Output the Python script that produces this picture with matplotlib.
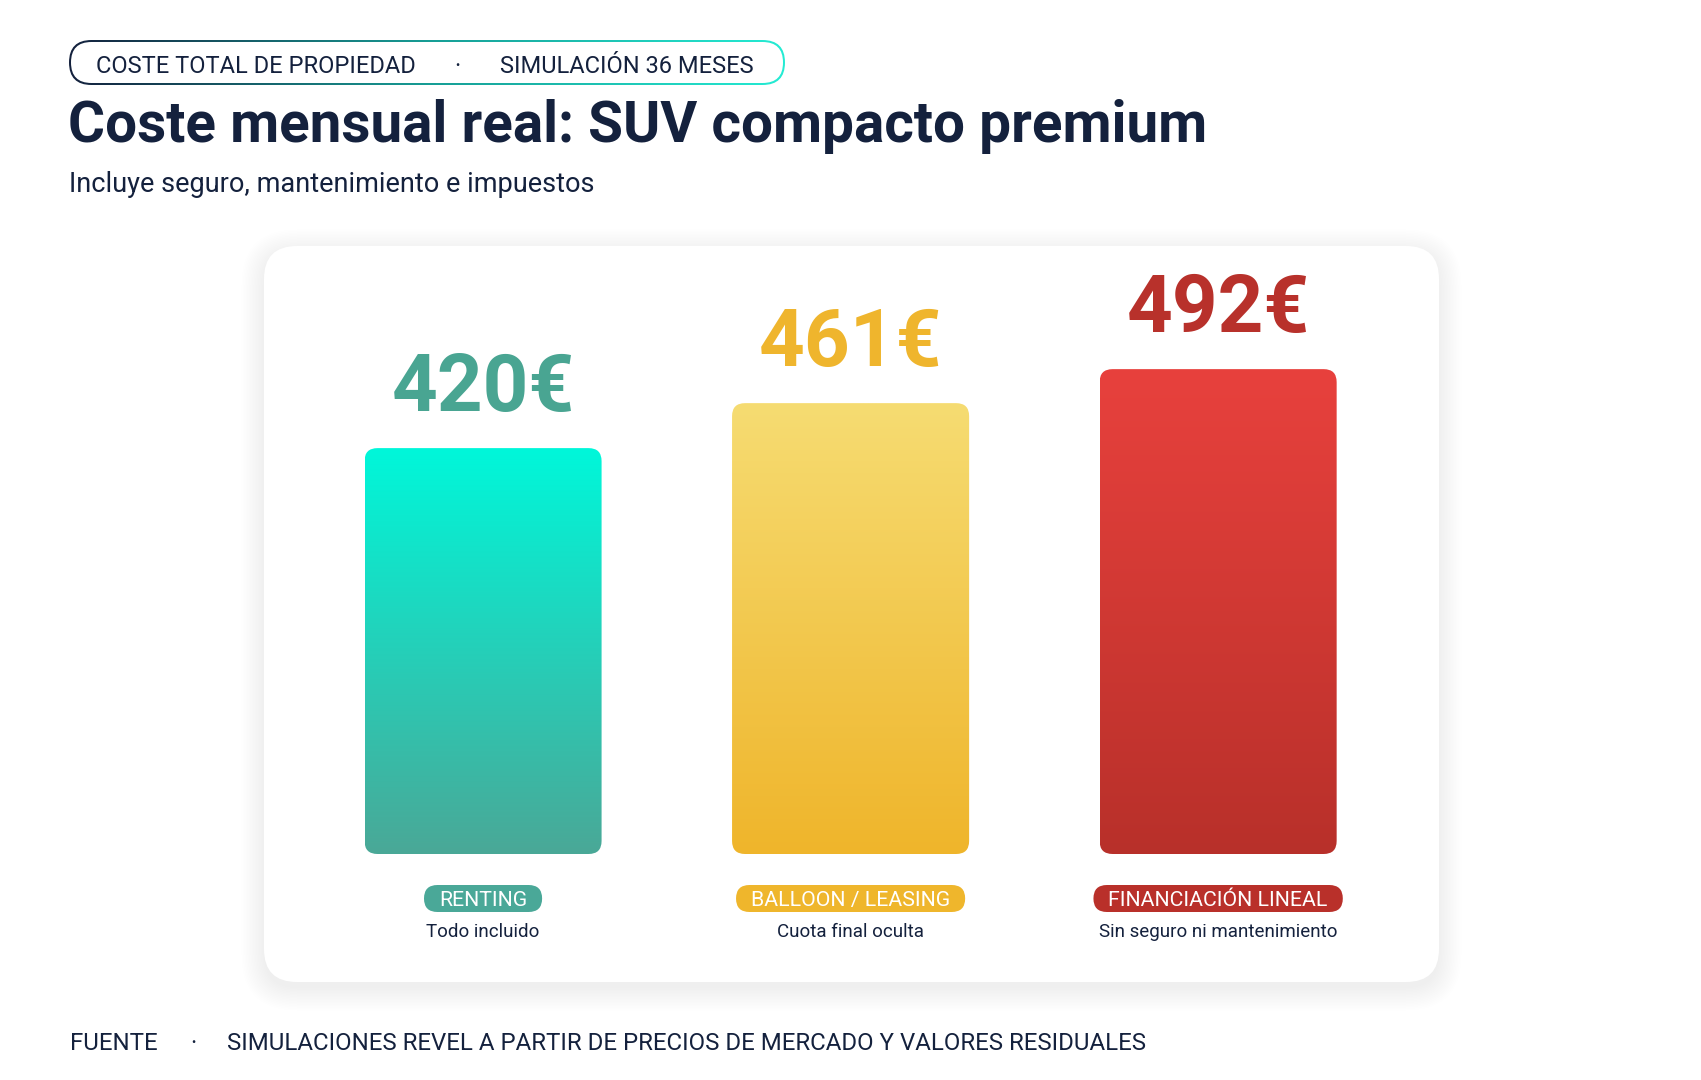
import numpy as np
import matplotlib
matplotlib.use('Agg')
import matplotlib.pyplot as plt
from matplotlib.patches import FancyBboxPatch
from matplotlib.colors import LinearSegmentedColormap
from matplotlib import transforms

plt.rcParams['font.family'] = ['Roboto', 'DejaVu Sans']

# data
categories = ['RENTING', 'BALLOON / LEASING', 'FINANCIACIÓN LINEAL']
notes = ['Todo incluido', 'Cuota final oculta', 'Sin seguro ni mantenimiento']
values = [420, 461, 492]
value_labels = ['420€', '461€', '492€']

top_colors = ['#00f7da', '#f6dc72', '#e8413d']
bottom_colors = ['#4aa897', '#efb52b', '#b8302a']
text_colors = ['#49a592', '#efb52d', '#b8312b']
pill_colors = ['#4aa898', '#efb62c', '#b9302a']

NAVY = '#14213d'
W, H = 1701, 1080


def fx(x):
    return x / W


def fy(y):
    return 1 - y / H


fig = plt.figure(figsize=(W / 100, H / 100), dpi=100)
fig.patch.set_facecolor('white')

# background layer in pixel units (y down)
bg = fig.add_axes([0, 0, 1, 1], zorder=0)
bg.set_xlim(0, W)
bg.set_ylim(H, 0)
bg.axis('off')

# card with soft shadow
cx0, cy0, cw, ch = 264, 246, 1182, 740
kx0, kw, kh = 264, 1175, 736
for k in range(16):
    g = k * 1.5
    bg.add_patch(FancyBboxPatch((kx0 - g, cy0 - g + 6), kw + 2 * g, kh + 2 * g,
                                boxstyle=f'round,pad=0,rounding_size={33 + g}',
                                fc='black', ec='none', alpha=0.0038, zorder=1))
bg.add_patch(FancyBboxPatch((kx0, cy0), kw, kh, boxstyle='round,pad=0,rounding_size=33',
                            fc='white', ec='none', zorder=2))

# top pill with gradient border
px0, py0, pw, ph = 69, 40, 716, 45
outer = FancyBboxPatch((px0, py0), pw, ph, boxstyle=f'round,pad=0,rounding_size={ph / 2}',
                       fc='none', ec='none', zorder=3)
bg.add_patch(outer)
grad = LinearSegmentedColormap.from_list('pill', ['#14213d', '#179d95', '#25ecd4'])
im = bg.imshow(np.linspace(0, 1, 256).reshape(1, -1), cmap=grad, aspect='auto',
               extent=(px0, px0 + pw, py0 + ph, py0), zorder=3)
im.set_clip_path(outer)
bg.add_patch(FancyBboxPatch((px0 + 2, py0 + 2), pw - 4, ph - 4,
                            boxstyle=f'round,pad=0,rounding_size={ph / 2 - 2}',
                            fc='white', ec='none', zorder=4))
bg.set_xlim(0, W)
bg.set_ylim(H, 0)

fig.text(fx(96), fy(73), 'COSTE TOTAL DE PROPIEDAD', fontsize=17, color=NAVY, va='baseline')
fig.text(fx(457), fy(73), '·', fontsize=17, color=NAVY, va='baseline', ha='center')
fig.text(fx(500), fy(73), 'SIMULACIÓN 36 MESES', fontsize=17, color=NAVY, va='baseline')

fig.text(fx(68), fy(142), 'Coste mensual real: SUV compacto premium', fontsize=40.8,
         fontweight='bold', color=NAVY, va='baseline')
fig.text(fx(69), fy(192), 'Incluye seguro, mantenimiento e impuestos', fontsize=19.5,
         color=NAVY, va='baseline')

fig.text(fx(70), fy(1050), 'FUENTE', fontsize=17.3, color=NAVY, va='baseline')
fig.text(fx(193), fy(1050), '·', fontsize=17.3, color=NAVY, va='baseline', ha='center')
fig.text(fx(227), fy(1050), 'SIMULACIONES REVEL A PARTIR DE PRECIOS DE MERCADO Y VALORES RESIDUALES',
         fontsize=17.3, color=NAVY, va='baseline')

# bar axes
Y0 = 50
ax_bottom, ax_top = 854, 250
ax = fig.add_axes([fx(cx0), fy(ax_bottom), cw / W, (ax_bottom - ax_top) / H], zorder=5)
ax.patch.set_alpha(0)
ax.axis('off')
xlim = (-0.596, 2.620)
ylim = (Y0, Y0 + (ax_bottom - ax_top) / 1.097)

x = np.arange(len(values))
bars = ax.bar(x, np.array(values) - Y0, bottom=Y0, width=0.645, alpha=0)

x_per_px = (xlim[1] - xlim[0]) / cw
y_per_px = (ylim[1] - ylim[0]) / (ax_bottom - ax_top)
r_px = 13
for i, rect in enumerate(bars):
    bx, by, bw, bh = rect.get_x(), rect.get_y(), rect.get_width(), rect.get_height()
    patch = FancyBboxPatch((bx, by), bw, bh,
                           boxstyle=f'round,pad=0,rounding_size={r_px * x_per_px}',
                           mutation_aspect=y_per_px / x_per_px, fc='none', ec='none')
    ax.add_patch(patch)
    cmap = LinearSegmentedColormap.from_list(f'bar{i}', [top_colors[i], bottom_colors[i]])
    gi = ax.imshow(np.linspace(0, 1, 256).reshape(-1, 1), cmap=cmap, aspect='auto',
                   extent=(bx, bx + bw, by, by + bh), origin='upper', zorder=2)
    gi.set_clip_path(patch)
    ax.annotate(value_labels[i], (x[i], values[i]), xytext=(0, 26.6), textcoords='offset points',
                ha='center', va='baseline', fontsize=57.5, fontweight='bold', color=text_colors[i])

ax.set_xlim(*xlim)
ax.set_ylim(*ylim)

# category pills and notes
trans = transforms.blended_transform_factory(ax.transData, fig.transFigure)
labels = []
for i in range(len(categories)):
    t = ax.text(x[i], fy(906), categories[i], transform=trans, ha='center', va='baseline',
                fontsize=15.3, color='white', zorder=10, clip_on=False)
    labels.append(t)
    ax.text(x[i], fy(937), notes[i], transform=trans, ha='center', va='baseline',
            fontsize=13.5, color=NAVY, zorder=10, clip_on=False)

fig.canvas.draw()
renderer = fig.canvas.get_renderer()
for i, t in enumerate(labels):
    bb = t.get_window_extent(renderer)
    pad = 15
    bg.add_patch(FancyBboxPatch((bb.x0 - pad, 885), bb.width + 2 * pad, 27,
                                boxstyle='round,pad=0,rounding_size=13.5',
                                fc=pill_colors[i], ec='none', zorder=6))

fig.savefig('out.png', dpi=100, facecolor='white')
